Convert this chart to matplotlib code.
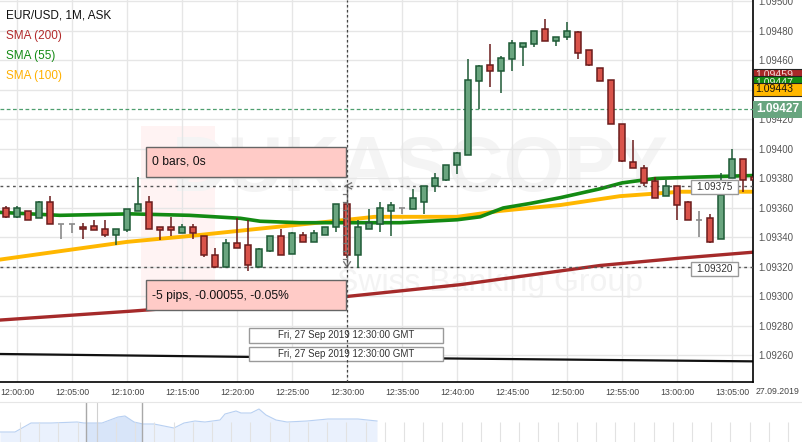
import matplotlib
matplotlib.use("Agg")
import matplotlib.pyplot as plt
import matplotlib.transforms as mtransforms
from matplotlib.patches import Rectangle
import numpy as np

plt.rcParams["font.family"] = ["Liberation Sans", "DejaVu Sans"]

W, H = 803, 442

# ---- data -------------------------------------------------------------
# EUR/USD 1M ask candles, minute 0 = 12:00:00 GMT on 27.09.2019
minutes = list(range(-1, 68))
opens = [1.09360, 1.09354, 1.09358, 1.09353, 1.09364, 1.09349, 1.09349, 1.09347,
         1.09348, 1.09346, 1.09342, 1.09345, 1.09358, 1.09364, 1.09347, 1.09347,
         1.09343, 1.09347, 1.09341, 1.09328, 1.09320, 1.09336, 1.09335, 1.09320,
         1.09331, 1.09341, 1.09329, 1.09342, 1.09337, 1.09342, 1.09347, 1.09363,
         1.09328, 1.09346, 1.09349, 1.09358, 1.09360, 1.09359, 1.09364, 1.09375,
         1.09379, 1.09389, 1.09396, 1.09446, 1.09457, 1.09453, 1.09461, 1.09469,
         1.09471, 1.09481, 1.09473, 1.09476, 1.09479, 1.09467, 1.09455, 1.09447,
         1.09417, 1.09391, 1.09387, 1.09378, 1.09368, 1.09375, 1.09364, 1.09352,
         1.09353, 1.09339, 1.09380, 1.09393, 1.09381]
highs = [1.09361, 1.09361, 1.09358, 1.09365, 1.09368, 1.09349, 1.09349, 1.09350,
         1.09352, 1.09352, 1.09346, 1.09359, 1.09381, 1.09368, 1.09347, 1.09354,
         1.09349, 1.09349, 1.09341, 1.09333, 1.09339, 1.09353, 1.09352, 1.09333,
         1.09341, 1.09346, 1.09344, 1.09344, 1.09345, 1.09347, 1.09363, 1.09363,
         1.09352, 1.09359, 1.09364, 1.09364, 1.09360, 1.09373, 1.09375, 1.09384,
         1.09389, 1.09398, 1.09461, 1.09457, 1.09471, 1.09463, 1.09474, 1.09472,
         1.09480, 1.09488, 1.09476, 1.09486, 1.09480, 1.09467, 1.09455, 1.09447,
         1.09417, 1.09406, 1.09389, 1.09381, 1.09379, 1.09375, 1.09365, 1.09358,
         1.09356, 1.09384, 1.09400, 1.09393, 1.09381]
lows = [1.09353, 1.09353, 1.09352, 1.09353, 1.09349, 1.09339, 1.09343, 1.09339,
        1.09345, 1.09340, 1.09335, 1.09344, 1.09358, 1.09346, 1.09338, 1.09341,
        1.09343, 1.09339, 1.09327, 1.09319, 1.09320, 1.09333, 1.09317, 1.09320,
        1.09330, 1.09328, 1.09329, 1.09337, 1.09337, 1.09342, 1.09344, 1.09326,
        1.09319, 1.09346, 1.09344, 1.09341, 1.09356, 1.09359, 1.09356, 1.09371,
        1.09378, 1.09383, 1.09396, 1.09427, 1.09442, 1.09438, 1.09453, 1.09456,
        1.09469, 1.09473, 1.09470, 1.09474, 1.09461, 1.09456, 1.09446, 1.09417,
        1.09391, 1.09387, 1.09375, 1.09367, 1.09368, 1.09352, 1.09352, 1.09340,
        1.09336, 1.09339, 1.09380, 1.09371, 1.09379]
closes = [1.09354, 1.09360, 1.09352, 1.09364, 1.09349, 1.09349, 1.09349, 1.09346,
          1.09345, 1.09342, 1.09346, 1.09359, 1.09363, 1.09346, 1.09345, 1.09345,
          1.09347, 1.09343, 1.09328, 1.09320, 1.09336, 1.09333, 1.09321, 1.09332,
          1.09341, 1.09328, 1.09343, 1.09337, 1.09343, 1.09347, 1.09363, 1.09328,
          1.09347, 1.09350, 1.09360, 1.09362, 1.09360, 1.09367, 1.09375, 1.09380,
          1.09389, 1.09397, 1.09447, 1.09456, 1.09453, 1.09462, 1.09472, 1.09472,
          1.09480, 1.09473, 1.09476, 1.09480, 1.09465, 1.09457, 1.09446, 1.09417,
          1.09392, 1.09387, 1.09377, 1.09367, 1.09375, 1.09362, 1.09352, 1.09352,
          1.09337, 1.09369, 1.09393, 1.09379, 1.09379]

# moving averages, sampled along the chart (minute, price)
sma55_t = [-1.55, 3.9, 10.3, 15.7, 20.3, 22.1, 25.7, 30, 34.8, 40, 42.1, 44.2,
           46.6, 49.4, 53, 55, 58, 62.1, 66.9]
sma55_v = [1.09357, 1.09355, 1.09356, 1.09355, 1.09353, 1.09351, 1.09350, 1.09350,
           1.09350, 1.09352, 1.09354, 1.09360, 1.09363, 1.09367, 1.09373, 1.09377,
           1.09380, 1.09381, 1.09382]
sma100_t = [-1.55, 4.2, 10, 15.7, 22.1, 30, 32.5, 40, 43.9, 49.4, 54.8, 60.3, 66.9]
sma100_v = [1.09325, 1.09331, 1.09337, 1.09341, 1.09346, 1.09352, 1.09354, 1.09354,
            1.09358, 1.09362, 1.09368, 1.09371, 1.09371]
sma200_t = [-1.55, 10.3, 19.4, 30, 40.3, 53, 60.3, 66.9]
sma200_v = [1.09284, 1.09290, 1.09295, 1.09300, 1.09308, 1.09321, 1.09326, 1.09330]
black_t = [-1.55, 21.2, 38.5, 66.9]
black_v = [1.09261, 1.09259, 1.09258, 1.09256]

measure_top, measure_bottom = 1.09375, 1.09320
last_price = 1.09427
cursor_minute = 30

price_ticks = [1.09500, 1.09480, 1.09460, 1.09440, 1.09420, 1.09400, 1.09380,
               1.09360, 1.09340, 1.09320, 1.09300, 1.09280, 1.09260]
time_ticks = list(range(0, 70, 5))
time_labels = ["12:00:00", "12:05:00", "12:10:00", "12:15:00", "12:20:00",
               "12:25:00", "12:30:00", "12:35:00", "12:40:00", "12:45:00",
               "12:50:00", "12:55:00", "13:00:00", "13:05:00"]

# navigator strip (x in strip pixels, height of the mini area)
nav_t = [0, 15, 31, 51, 77, 84, 102, 118, 125, 134, 143, 154, 174, 184, 195, 205,
         220, 225, 236, 241, 251, 259, 266, 276, 287, 307, 328, 358, 377]
nav_h = [10, 10, 19, 19, 20, 19, 19, 25, 26, 20, 18, 18, 14, 19, 21, 20,
         22, 28, 31, 29, 29, 33, 27, 22, 20, 21, 23, 23, 21]

# ---- figure -----------------------------------------------------------
fig = plt.figure(figsize=(W / 100, H / 100), dpi=100)
ax = fig.add_axes([0, 60 / H, 753 / W, 382 / H])
ax.set_xlim(-1.55, 66.9)
ax.set_ylim(1.09242, 1.09501)

# pixel coordinates (origin top-left) for the overlay boxes
px = mtransforms.Affine2D().scale(1 / W, -1 / H).translate(0, 1) + fig.transFigure


def box(x0, y0, x1, y1, fc, ec, lw=1.0, z=9):
    ax.add_patch(Rectangle((x0, y0), x1 - x0, y1 - y0, transform=px, fc=fc,
                           ec=ec, lw=lw, zorder=z, clip_on=False))


def label(x, y, s, z=10, **kw):
    ax.text(x, y, s, transform=px, zorder=z, clip_on=False, va="center", **kw)


ax.set_xticks(time_ticks)
ax.set_xticklabels(time_labels)
ax.set_yticks(price_ticks)
ax.set_yticklabels([f"{p:.5f}" for p in price_ticks])
ax.yaxis.tick_right()
ax.grid(color="#e6e6e6", lw=1)
ax.set_axisbelow(True)
ax.tick_params(length=0)
ax.tick_params(axis="x", labelsize=6.3, labelcolor="#444", pad=4)
ax.tick_params(axis="y", labelsize=7, labelcolor="#555", pad=3.6)
for s in ("top", "left"):
    ax.spines[s].set_visible(False)
for s in ("right", "bottom"):
    ax.spines[s].set_color("black")
    ax.spines[s].set_linewidth(1.2)

# watermark (very faint)
box(141, 126, 215, 300, "#fff3f3", "none", lw=0, z=0.1)
ax.text(420, 170, "DUKASCOPY", transform=px, fontsize=56, weight="bold",
        family=["Liberation Sans Narrow", "Liberation Sans"], color="#f4f4f4",
        ha="center", va="center", zorder=0.2)
ax.text(490, 283, "Swiss Banking Group", transform=px, fontsize=23,
        color="#f3f3f3", ha="center", va="center", zorder=0.2)

# moving averages
ax.plot(black_t, black_v, color="#111111", lw=1.6, zorder=2)
ax.plot(sma200_t, sma200_v, color="#a52a2a", lw=2.4, zorder=2)
ax.plot(sma100_t, sma100_v, color="#ffb700", lw=2.8, zorder=2)
ax.plot(sma55_t, sma55_v, color="#138a13", lw=2.6, zorder=2.1)

# level lines
ax.axhline(last_price, color="#4f9f6f", lw=0.9, ls=(0, (3, 2)), zorder=3)
for lv in (measure_top, measure_bottom):
    ax.axhline(lv, color="#555555", lw=1, ls=(0, (2, 2.5)), zorder=3)

# candles
up_fc, up_ec = "#6aa57f", "#1e5a36"
dn_fc, dn_ec = "#d9534a", "#6b1c1c"
bw = 0.6
for m, o, h, l, c in zip(minutes, opens, highs, lows, closes):
    if c == o:
        ax.vlines(m, l, h, color="#8a8a8a", lw=1.2, zorder=4)
        ax.hlines(o, m - bw / 2, m + bw / 2, color="#8a8a8a", lw=1.2, zorder=4)
        continue
    fc, ec = (up_fc, up_ec) if c > o else (dn_fc, dn_ec)
    ax.vlines(m, l, h, color=ec, lw=1.1, zorder=4)
    ax.add_patch(Rectangle((m - bw / 2, min(o, c)), bw, abs(c - o), fc=fc,
                           ec=ec, lw=1.1, zorder=5))

# measuring ruler on the cursor
ax.plot([cursor_minute] * 2, [measure_top, measure_bottom], color="#777", lw=1,
        zorder=6)
for v in np.linspace(measure_top, measure_bottom, 11)[1:-1]:
    ax.plot([cursor_minute - 0.36, cursor_minute], [v, v], color="#777", lw=0.9,
            zorder=6)
ax.plot([cursor_minute + 0.4, cursor_minute - 0.15, cursor_minute + 0.4],
        [measure_top + 0.00002, measure_top, measure_top - 0.00002],
        color="#777", lw=1, zorder=6)
ax.plot([cursor_minute - 0.3, cursor_minute, cursor_minute + 0.3],
        [measure_bottom + 0.000035, measure_bottom, measure_bottom + 0.000035],
        color="#777", lw=1, zorder=6)

# measurement boxes
box(146, 147, 346, 177, "#ffcbc7", "#666666", z=9)
label(152, 162, "0 bars, 0s", fontsize=8.7, color="#111")
box(146, 280, 346, 310, "#ffcbc7", "#666666", z=9)
label(152, 296, "-5 pips, -0.00055, -0.05%", fontsize=8.7, color="#111")

# cursor time labels
for y0, y1 in ((328, 343), (347, 361)):
    box(249, y0, 443, y1, "white", "#9a9a9a", z=7)
    label(346, (y0 + y1) / 2, "Fri, 27 Sep 2019 12:30:00 GMT", z=7.5,
          fontsize=7, color="#333", ha="center")
ax.axvline(cursor_minute, color="#444", lw=0.9, ls=(0, (2, 2)), zorder=8)

# level tags inside the plot
for y0, txt in ((180, "1.09375"), (262, "1.09320")):
    box(691, y0, 738, y0 + 14, "white", "#9a9a9a", z=9)
    label(714.5, y0 + 7, txt, fontsize=7.2, color="#333", ha="center")

# legend
label(6, 15, "EUR/USD, 1M, ASK", fontsize=8.5, color="#111")
label(6, 36, "SMA (200)", fontsize=8.5, color="#b22a2a")
label(6, 56, "SMA (55)", fontsize=8.5, color="#138a13")
label(6, 76, "SMA (100)", fontsize=8.5, color="#ffb000")

# price tags on the axis
box(753, 69, 803, 81, "#a82828", "#222", lw=0.8, z=11)
label(755, 75.5, "1.09459", z=11.1, fontsize=7.6, color="#f3d6d6")
box(753, 76, 803, 88, "#138a13", "#222", lw=0.8, z=12)
label(755, 82.5, "1.09447", z=12.1, fontsize=7.6, color="#e6f3e6")
box(753, 83, 803, 96, "#ffb700", "#222", lw=0.8, z=13)
label(755, 89.5, "1.09443", z=13.1, fontsize=7.6, color="#111")
box(753, 101, 803, 118, "#68a57f", "none", lw=0, z=11)
label(756, 109.5, "1.09427", z=11.1, fontsize=8.6, weight="bold", color="white")
label(778, 392, "27.09.2019", fontsize=6.3, color="#444", ha="center")

# ---- navigator --------------------------------------------------------
nav = fig.add_axes([0, 0, 1, 40 / H])
nav.set_xlim(0, W)
nav.set_ylim(0, 40)
nav.fill_between(nav_t, nav_h, color="#eaf1fd", lw=0)
sel = nav.fill_between(nav_t, nav_h, color="#d8e5f9", lw=0)
sel.set_clip_path(Rectangle((86, 0), 56, 40, transform=nav.transData))
nav.plot(nav_t, nav_h, color="#b8d0f2", lw=0.8)
nav.vlines(np.arange(20, W, 19.2), 0, 20, color="#e2e2e2", lw=0.8)
nav.vlines([86, 142], 0, 40, color="#a8a8a8", lw=1)
nav.vlines([97], 0, 40, color="#d0d0d0", lw=0.8)
nav.set_xticks([])
nav.set_yticks([])
for s in ("left", "right", "bottom"):
    nav.spines[s].set_visible(False)
nav.spines["top"].set_color("#e6e6e6")

fig.savefig("out.png", dpi=100)
